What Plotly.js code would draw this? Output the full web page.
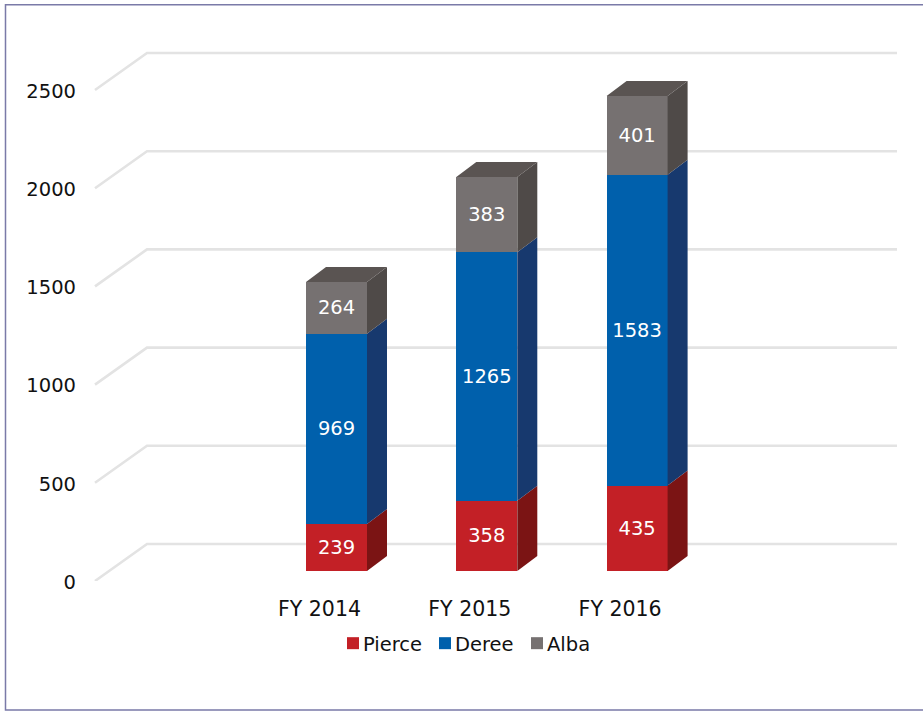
<!DOCTYPE html>
<html>
<head>
<meta charset="utf-8">
<script src="https://cdn.plot.ly/plotly-3.0.1.min.js"></script>
<style>html,body{margin:0;padding:0;background:#fff}</style>
</head>
<body>
<div id="chart" style="width:923px;height:711px"></div>
<script>
var categories = ['FY 2014', 'FY 2015', 'FY 2016'];
var pierce = [239, 358, 435];
var deree = [969, 1265, 1583];
var alba = [264, 383, 401];
var yTicks = [0, 500, 1000, 1500, 2000, 2500];

var W = 923, H = 711;
var step = 150.3;            // px between categories
var unit = 491 / 2500;       // px per value unit
var barW = 61 / step;
var dx = 20 / step, dy = 15 / unit;  // bar depth
var labelX0 = 319.5, barX0 = 336.5;
var idx = [0, 1, 2];
var yMax = 2800;             // headroom so the depth offset stays inside the axis

function xr(x0) { return [-x0 / step, (W - x0) / step]; }
function yd(y0) { return [(H - y0) / H, (H - y0 + yMax * unit) / H]; }
function px(p) { return (p - labelX0) / step; }

// back wall grid with the slanted floor return
var gx = [], gy = [], lift = 37 / unit;
yTicks.forEach(function (v) {
  gx.push(px(95), px(147), px(897), null);
  gy.push(v, v + lift, v + lift, null);
});
var grid = { type: 'scatter', mode: 'lines', x: gx, y: gy, xaxis: 'x', yaxis: 'y',
  line: { color: '#e3e3e3', width: 2.6 }, hoverinfo: 'skip', showlegend: false };

function side(base, vals, color) {
  var x = [], y = [];
  idx.forEach(function (i) {
    var r = i + barW / 2, b = base[i], t = b + vals[i];
    x.push(r, r + dx, r + dx, r, r, null);
    y.push(b, b + dy, t + dy, t, b, null);
  });
  return { type: 'scatter', mode: 'lines', x: x, y: y, xaxis: 'x2', yaxis: 'y2', fill: 'toself',
    fillcolor: color, line: { width: 0, color: color }, hoverinfo: 'skip', showlegend: false };
}
var zero = [0, 0, 0];
var b2 = pierce.slice();
var b3 = pierce.map(function (v, i) { return v + deree[i]; });

var tx = [], ty = [];
idx.forEach(function (i) {
  var t = b3[i] + alba[i], l = i - barW / 2, r = i + barW / 2;
  tx.push(l, l + dx, r + dx, r, l, null);
  ty.push(t, t + dy, t + dy, t, t, null);
});
var topFace = { type: 'scatter', mode: 'lines', x: tx, y: ty, xaxis: 'x2', yaxis: 'y2', fill: 'toself',
  fillcolor: '#5a5452', line: { width: 0, color: '#5a5452' }, hoverinfo: 'skip', showlegend: false };

function front(name, vals, color) {
  return { type: 'bar', name: name, x: idx, y: vals, xaxis: 'x2', yaxis: 'y2', width: barW,
    marker: { color: color, line: { width: 0 } }, text: vals.map(String), textposition: 'inside',
    insidetextanchor: 'middle', textangle: 0, constraintext: 'none',
    insidetextfont: { color: '#ffffff', size: 19.5, family: 'DejaVu Sans' } };
}

var data = [
  grid,
  front('Pierce', pierce, '#c32026'),
  front('Deree', deree, '#0060ac'),
  front('Alba', alba, '#767171'),
  side(zero, pierce, '#7b1414'),
  side(b2, deree, '#17396e'),
  side(b3, alba, '#4f4a48'),
  topFace
];

var layout = {
  width: W, height: H,
  margin: { l: 0, r: 0, t: 0, b: 0 },
  paper_bgcolor: '#ffffff', plot_bgcolor: 'rgba(0,0,0,0)',
  barmode: 'stack',
  font: { family: 'DejaVu Sans', size: 19.5, color: '#111111' },
  xaxis: { domain: [0, 1], range: xr(labelX0), anchor: 'free', position: (H - 594) / H,
    tickmode: 'array', tickvals: idx, ticktext: categories, showgrid: false, zeroline: false,
    showline: false, ticks: '', tickfont: { size: 20.5, color: '#111111' } },
  yaxis: { domain: yd(581), range: [0, yMax], anchor: 'free', position: 76 / W,
    tickmode: 'array', tickvals: yTicks, showgrid: false, zeroline: false, showline: false,
    ticks: '', ticklabelshift: 1, tickfont: { size: 19.5, color: '#111111' } },
  xaxis2: { domain: [0, 1], range: xr(barX0), anchor: 'y2', visible: false, fixedrange: true },
  yaxis2: { domain: yd(571), range: [0, yMax], anchor: 'x2', visible: false, fixedrange: true },
  showlegend: true,
  legend: { orientation: 'h', x: 333 / W, y: (H - 624) / H, xanchor: 'left', yanchor: 'top',
    entrywidth: 47, entrywidthmode: 'pixels', traceorder: 'normal', bgcolor: 'rgba(0,0,0,0)',
    font: { size: 19.5, color: '#111111' } },
  shapes: [{ type: 'rect', xref: 'paper', yref: 'paper', x0: 5.5 / W, x1: 1.02, y0: 1 - 710 / H, y1: 1 - 4.7 / H,
    line: { color: '#7a7aa8', width: 1.5 }, layer: 'below' }]
};

Plotly.newPlot('chart', data, layout, { displayModeBar: false, responsive: false }).then(function () {
  document.querySelectorAll('.legendtext').forEach(function (t) { t.setAttribute('x', 30); });
});
</script>
</body>
</html>
